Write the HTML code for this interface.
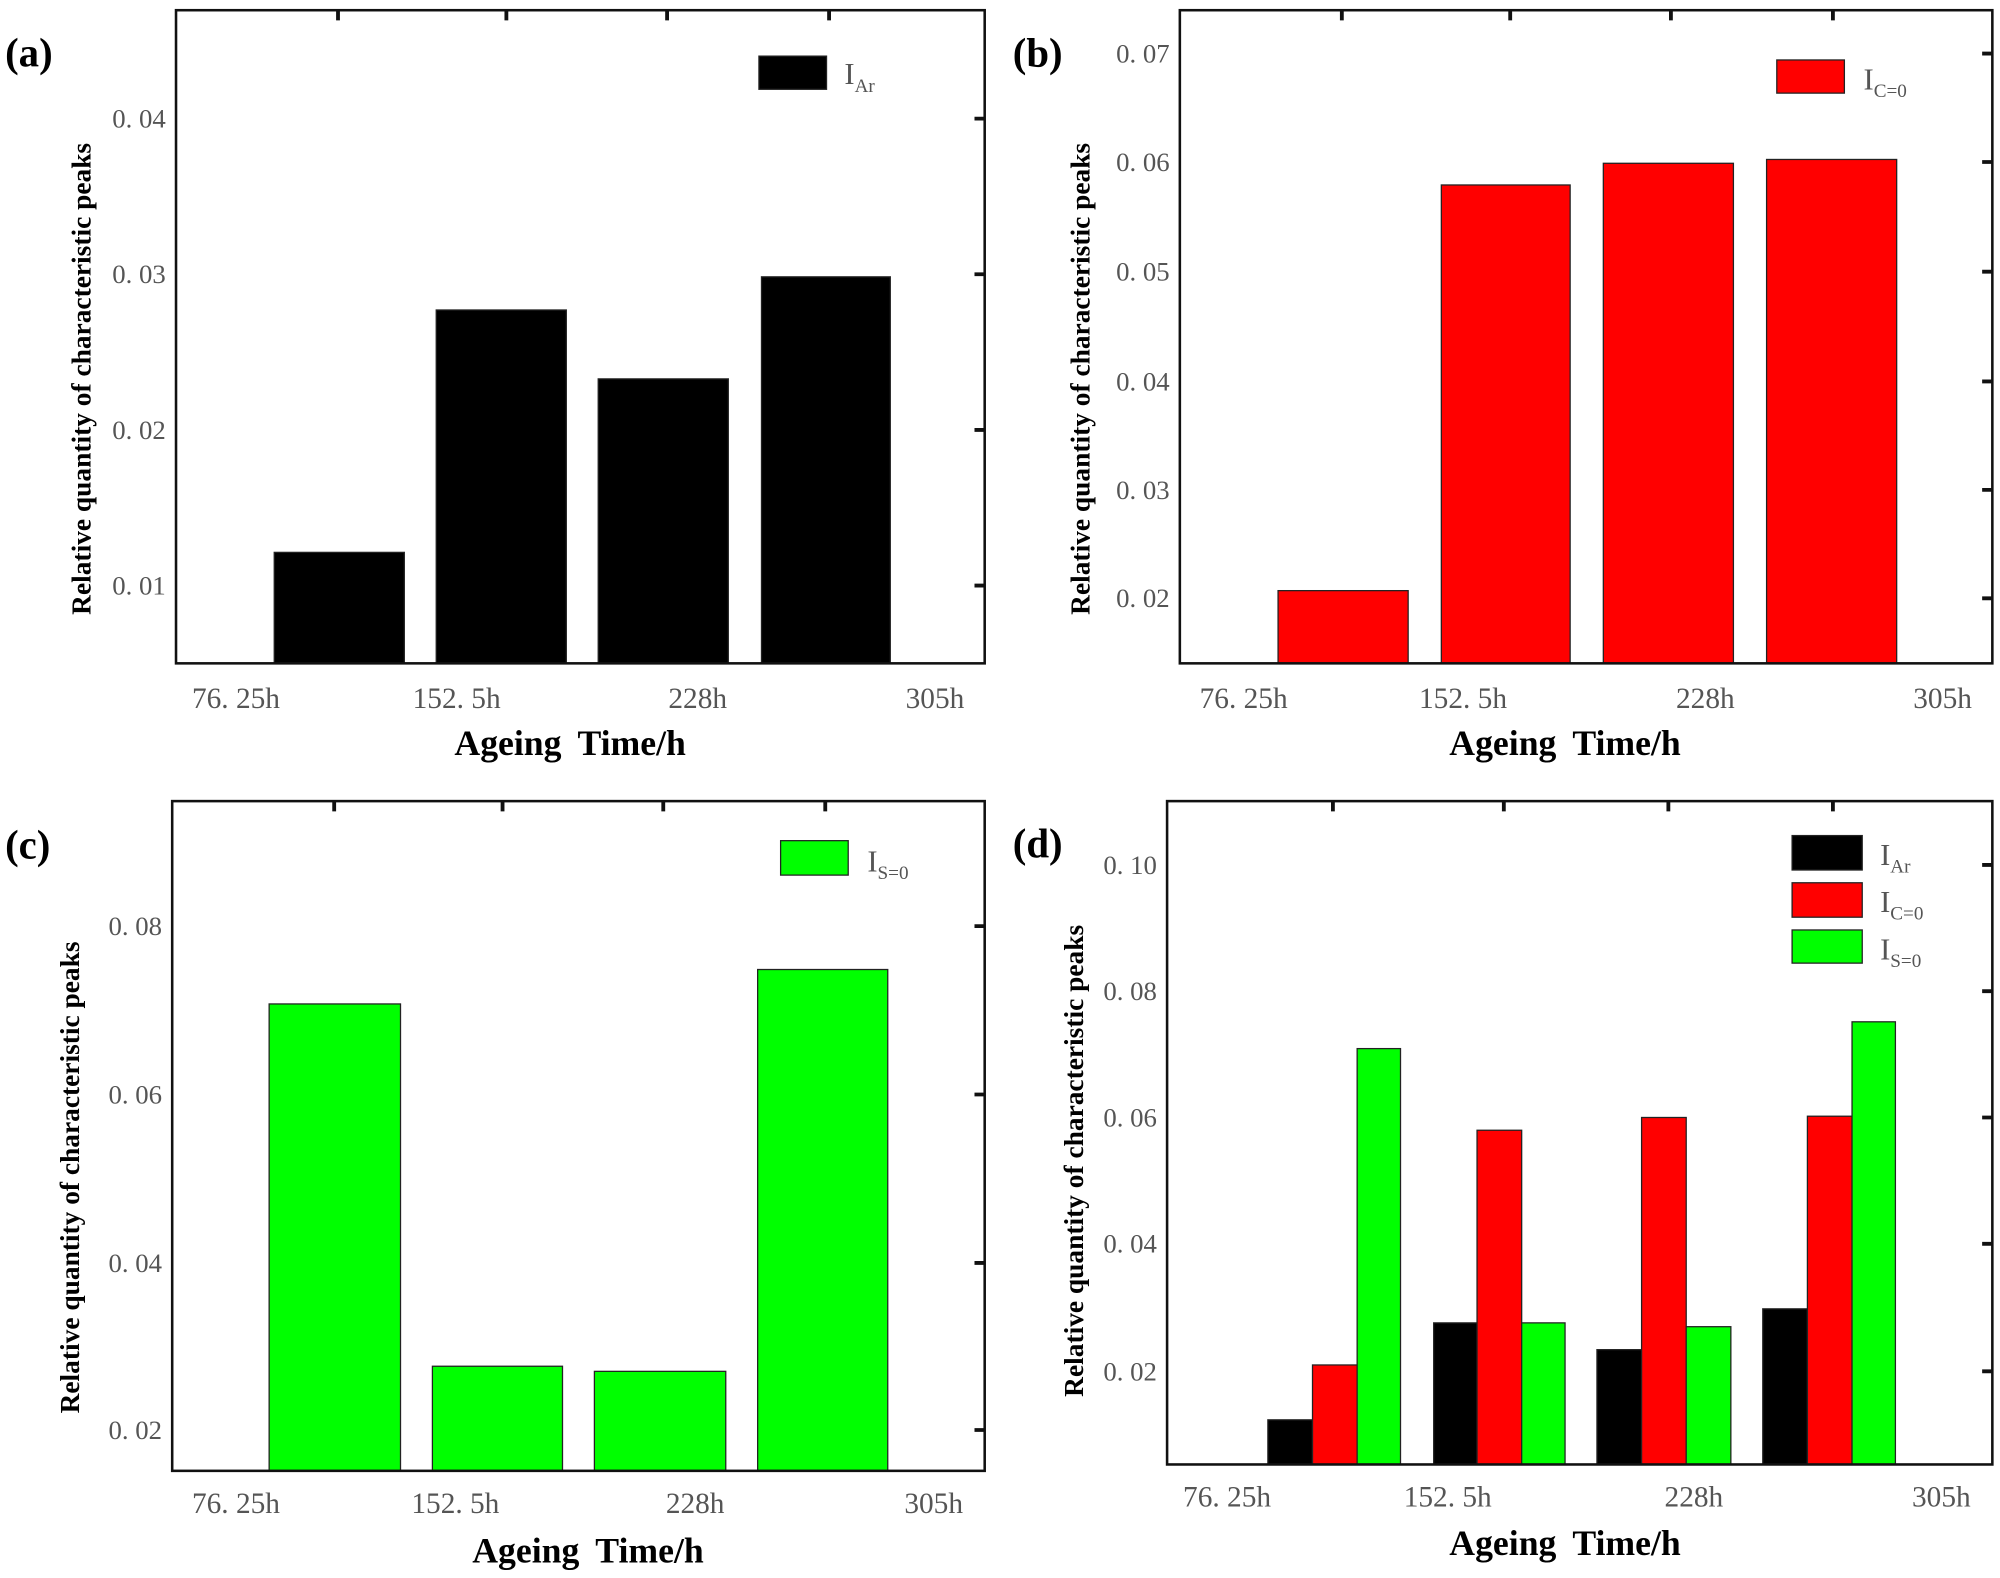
<!DOCTYPE html>
<html><head><meta charset="utf-8"><style>
html,body{margin:0;padding:0;background:#fff;}
svg{display:block;}
.t{font-family:"Liberation Serif",serif;font-size:21px;fill:#555;}
.yt{font-family:"Liberation Serif",serif;font-size:21.5px;font-weight:bold;fill:#000;}
.xt{font-family:"Liberation Serif",serif;font-size:28px;font-weight:bold;fill:#000;}
.pl{font-family:"Liberation Serif",serif;font-size:32px;font-weight:bold;fill:#000;}
.lg{font-family:"Liberation Serif",serif;font-size:24px;fill:#555;}
.sb{font-size:15px;}
</style></head><body>
<svg width="2000" height="1578" viewBox="0 0 1568 1237" preserveAspectRatio="none" xmlns="http://www.w3.org/2000/svg">
<rect width="1568" height="1237" fill="#fff"/>
<g stroke="#222" stroke-width="1">
<rect x="215" y="433" width="102" height="87" fill="#000"/>
<rect x="342" y="243" width="102" height="277" fill="#000"/>
<rect x="469" y="297" width="102" height="223" fill="#000"/>
<rect x="597" y="217" width="101" height="303" fill="#000"/>
<rect x="595" y="44" width="53" height="26" fill="#000"/>
<rect x="1002" y="463" width="102" height="57" fill="#f00"/>
<rect x="1130" y="145" width="101" height="375" fill="#f00"/>
<rect x="1257" y="128" width="102" height="392" fill="#f00"/>
<rect x="1385" y="125" width="102" height="395" fill="#f00"/>
<rect x="1393" y="47" width="53" height="26" fill="#f00"/>
<rect x="211" y="787" width="103" height="366" fill="#0f0"/>
<rect x="339" y="1071" width="102" height="82" fill="#0f0"/>
<rect x="466" y="1075" width="103" height="78" fill="#0f0"/>
<rect x="594" y="760" width="102" height="393" fill="#0f0"/>
<rect x="612" y="659" width="53" height="27" fill="#0f0"/>
<rect x="994" y="1113" width="35" height="35" fill="#000"/>
<rect x="1029" y="1070" width="35" height="78" fill="#f00"/>
<rect x="1064" y="822" width="34" height="326" fill="#0f0"/>
<rect x="1124" y="1037" width="34" height="111" fill="#000"/>
<rect x="1158" y="886" width="35" height="262" fill="#f00"/>
<rect x="1193" y="1037" width="34" height="111" fill="#0f0"/>
<rect x="1252" y="1058" width="35" height="90" fill="#000"/>
<rect x="1287" y="876" width="35" height="272" fill="#f00"/>
<rect x="1322" y="1040" width="35" height="108" fill="#0f0"/>
<rect x="1382" y="1026" width="35" height="122" fill="#000"/>
<rect x="1417" y="875" width="35" height="273" fill="#f00"/>
<rect x="1452" y="801" width="34" height="347" fill="#0f0"/>
<rect x="1405" y="655" width="55" height="27" fill="#000"/>
<rect x="1405" y="692" width="55" height="27" fill="#f00"/>
<rect x="1405" y="729" width="55" height="26" fill="#0f0"/>
</g>
<g fill="none" stroke="#111" stroke-width="2">
<rect x="138" y="8" width="634" height="512"/>
<rect x="925" y="8" width="637" height="512"/>
<rect x="135" y="628" width="637" height="525"/>
<rect x="915" y="628" width="647" height="520"/>
</g>
<g fill="none" stroke="#111" stroke-width="3">
<path d="M265 8v8M397 8v8M523 8v8M650 8v8"/>
<path d="M1052 8v8M1184 8v8M1310 8v8M1437 8v8"/>
<path d="M262 628v8M394 628v8M520 628v8M647 628v8"/>
<path d="M1045 628v8M1179 628v8M1308 628v8M1437 628v8"/>
<path d="M764 93h8M764 215h8M764 337h8M764 459h8"/>
<path d="M1554 42h8M1554 127h8M1554 213h8M1554 299h8M1554 384h8M1554 469h8"/>
<path d="M764 726h8M764 858h8M764 990h8M764 1121h8"/>
<path d="M1554 678h8M1554 777h8M1554 876h8M1554 975h8M1554 1075h8"/>
</g>
<g class="t" text-anchor="end">
<text x="130" y="100">0. 04</text><text x="130" y="222">0. 03</text><text x="130" y="344">0. 02</text><text x="130" y="466">0. 01</text>
<text x="917" y="49">0. 07</text><text x="917" y="134">0. 06</text><text x="917" y="220">0. 05</text><text x="917" y="306">0. 04</text><text x="917" y="391">0. 03</text><text x="917" y="476">0. 02</text>
<text x="127" y="733">0. 08</text><text x="127" y="865">0. 06</text><text x="127" y="997">0. 04</text><text x="127" y="1128">0. 02</text>
<text x="907" y="685">0. 10</text><text x="907" y="784">0. 08</text><text x="907" y="883">0. 06</text><text x="907" y="982">0. 04</text><text x="907" y="1082">0. 02</text>
</g>
<g class="t" text-anchor="middle" style="font-size:23px">
<text x="185" y="555">76. 25h</text><text x="358" y="555">152. 5h</text><text x="547" y="555">228h</text><text x="733" y="555">305h</text>
<text x="975" y="555">76. 25h</text><text x="1147" y="555">152. 5h</text><text x="1337" y="555">228h</text><text x="1523" y="555">305h</text>
<text x="185" y="1186">76. 25h</text><text x="357" y="1186">152. 5h</text><text x="545" y="1186">228h</text><text x="732" y="1186">305h</text>
<text x="962" y="1181">76. 25h</text><text x="1135" y="1181">152. 5h</text><text x="1328" y="1181">228h</text><text x="1522" y="1181">305h</text>
</g>
<g class="xt" text-anchor="middle" style="word-spacing:6px">
<text x="447" y="592">Ageing Time/h</text>
<text x="1227" y="592">Ageing Time/h</text>
<text x="461" y="1225">Ageing Time/h</text>
<text x="1227" y="1219">Ageing Time/h</text>
</g>
<g class="yt" text-anchor="middle">
<text transform="translate(71,297) rotate(-90)">Relative quantity of characteristic peaks</text>
<text transform="translate(854,297) rotate(-90)">Relative quantity of characteristic peaks</text>
<text transform="translate(62,923) rotate(-90)">Relative quantity of characteristic peaks</text>
<text transform="translate(849,910) rotate(-90)">Relative quantity of characteristic peaks</text>
</g>
<g class="pl">
<text x="4" y="52">(a)</text><text x="794" y="52">(b)</text>
<text x="4" y="673">(c)</text><text x="794" y="672">(d)</text>
</g>
<g class="lg">
<text x="662" y="66">I<tspan class="sb" dy="6">Ar</tspan></text>
<text x="1461" y="70">I<tspan class="sb" dy="6">C=0</tspan></text>
<text x="680" y="683">I<tspan class="sb" dy="6">S=0</tspan></text>
<text x="1474" y="678">I<tspan class="sb" dy="6">Ar</tspan></text>
<text x="1474" y="715">I<tspan class="sb" dy="6">C=0</tspan></text>
<text x="1474" y="752">I<tspan class="sb" dy="6">S=0</tspan></text>
</g>
</svg>
</body></html>
